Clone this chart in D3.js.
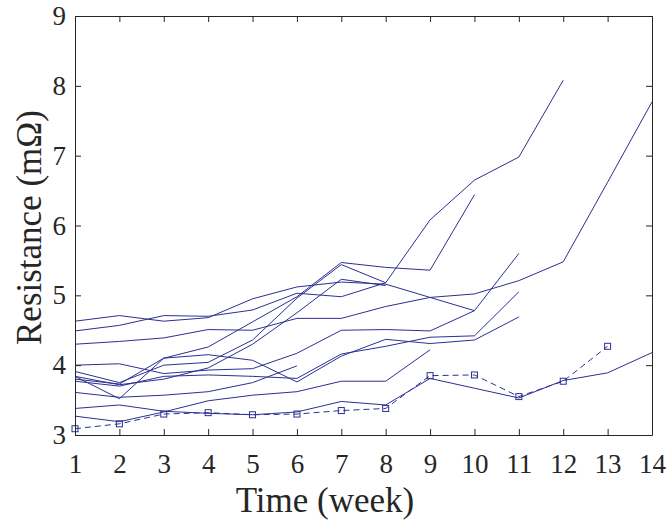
<!DOCTYPE html>
<html><head><meta charset="utf-8">
<script src="https://cdn.jsdelivr.net/npm/d3@7"></script>
<style>body{margin:0;background:#fff}svg{display:block}</style>
</head><body>
<svg id="c" width="669" height="520"></svg>
<script>
const weeks = [1,2,3,4,5,6,7,8,9,10,11,12,13,14];
const xTicks = [1,2,3,4,5,6,7,8,9,10,11,12,13,14];
const yTicks = [3,4,5,6,7,8,9];
const seriesA  = [4.63,4.71,4.63,4.68,4.95,5.12,5.19,5.16,4.97,4.78];
const seriesB  = [4.49,4.57,4.71,4.70,4.79,5.03,4.98,5.18,6.08,6.65,6.98,8.08];
const seriesC  = [4.30,4.34,4.39,4.51,4.50,4.67,4.67,4.84,4.97,5.02,5.21,5.48,6.62,7.77];
const seriesS1 = [3.84,3.52,4.10,4.26,4.62,4.98,5.47,5.40,5.36,6.44];
const seriesS2 = [3.91,3.75,4.00,4.04,4.36,4.96,5.44,5.18];
const seriesS3 = [3.84,3.72,3.80,3.96,4.30,4.75,5.23,5.14];
const seriesZ  = [4.00,4.02,3.88,3.93,3.95,4.17,4.50,4.51,4.49,4.78,5.60];
const seriesE1 = [3.80,3.73,4.10,4.15,4.07,3.76,4.13,4.37,4.31,4.36,4.69];
const seriesF1 = [3.77,3.70,3.84,3.86,3.84,3.81,4.16,4.27,4.40,4.42,5.05];
const seriesE  = [3.61,3.54,3.57,3.62,3.75,3.99];
const seriesF  = [3.27,3.19,3.33,3.49,3.57,3.62,3.77,3.77,4.22];
const seriesG  = [3.38,3.43,3.34,3.31,3.29,3.33,3.48,3.43,3.81,3.67,3.53,3.78,3.89,4.18];
const seriesMean = [3.09,3.16,3.30,3.32,3.29,3.30,3.35,3.38,3.85,3.86,3.55,3.77,4.27];
const solidSeries = [seriesA,seriesB,seriesC,seriesS1,seriesS2,seriesS3,seriesZ,seriesE1,seriesF1,seriesE,seriesF,seriesG];

const W=669,H=520, m={l:75,t:16,r:17,b:85};
const svg=d3.select('#c');
const x=d3.scaleLinear().domain([1,14]).range([m.l,W-m.r]);
const y=d3.scaleLinear().domain([3,9]).range([H-m.b,m.t]);
const col='#2d2f92', axc='#262626', font='"Liberation Serif","Times New Roman",serif';

const line=d3.line().x((d,i)=>x(weeks[i])).y(d=>y(d));
const g=svg.append('g');
solidSeries.forEach(s=>g.append('path').attr('d',line(s)).attr('fill','none').attr('stroke',col).attr('stroke-width',1));
g.append('path').attr('d',line(seriesMean)).attr('fill','none').attr('stroke',col).attr('stroke-width',1).attr('stroke-dasharray','6,4');
g.selectAll('rect.mk').data(seriesMean).join('rect').attr('class','mk')
 .attr('x',(d,i)=>x(weeks[i])-3).attr('y',d=>y(d)-3).attr('width',6).attr('height',6)
 .attr('fill','none').attr('stroke',col).attr('stroke-width',1);

// axes
const ax=svg.append('g').attr('transform',`translate(0,${H-m.b})`).call(d3.axisBottom(x).tickValues(xTicks).tickFormat(d3.format('d')).tickSizeInner(-6).tickSizeOuter(0).tickPadding(19));
const ay=svg.append('g').attr('transform',`translate(${m.l},0)`).call(d3.axisLeft(y).tickValues(yTicks).tickFormat(d3.format('d')).tickSizeInner(-6).tickSizeOuter(0).tickPadding(9));
const axT=svg.append('g').attr('transform',`translate(0,${m.t})`).call(d3.axisTop(x).tickValues(xTicks).tickSizeInner(-6).tickSizeOuter(0).tickFormat(''));
const ayR=svg.append('g').attr('transform',`translate(${W-m.r},0)`).call(d3.axisRight(y).tickValues(yTicks).tickSizeInner(-6).tickSizeOuter(0).tickFormat(''));
[ax,ay,axT,ayR].forEach(a=>{a.selectAll('path,line').attr('stroke',axc).attr('stroke-width',1);
 a.selectAll('text').attr('fill',axc).style('font-family',font).style('font-size','27px');});

svg.append('text').attr('x',325).attr('y',H-8).attr('text-anchor','middle')
 .style('font-family',font).style('font-size','35px').attr('fill',axc).text('Time (week)');
svg.append('text').attr('transform',`translate(41,${(m.t+H-m.b)/2+2}) rotate(-90)`).attr('text-anchor','middle')
 .style('font-family',font).style('font-size','35px').attr('fill',axc).text('Resistance (mΩ)');
</script>
</body></html>
